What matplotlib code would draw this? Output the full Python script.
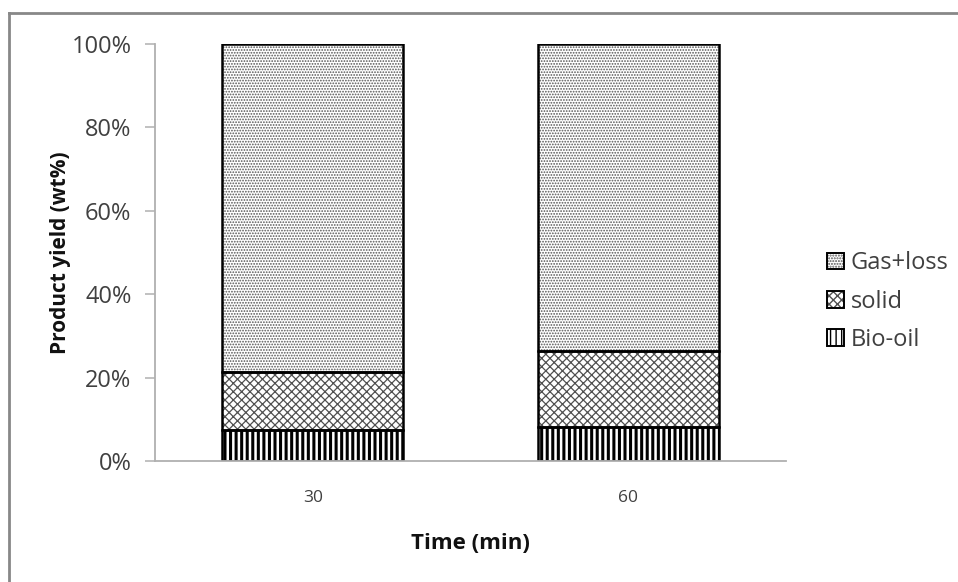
import matplotlib
matplotlib.use("Agg")
import matplotlib.pyplot as plt
from matplotlib.patches import Patch
from matplotlib.lines import Line2D
from matplotlib.legend_handler import HandlerTuple
import numpy as np

# Product distribution by reaction time
times = ["30", "60"]
bio_oil = [7.4, 8.2]
solid = [14.0, 18.2]
gas_loss = [78.6, 73.6]

series_names = ["Bio-oil", "solid", "Gas+loss"]
series_values = [bio_oil, solid, gas_loss]
hatches = ["|||", "xxxx", "......"]
hatch_colors = ["black", "#505050", "#555555"]
hatch_widths = [2.2, 0.9, 0.85]

plt.rcParams["font.family"] = ["Open Sans", "DejaVu Sans"]

fig = plt.figure(figsize=(9.58, 5.82), dpi=100)
ax = fig.add_axes([155 / 958, 1 - 461 / 582, (786 - 155) / 958, (461 - 44) / 582])


def hatched_patch_style(p, hw):
    if hasattr(p, "set_hatch_linewidth"):
        p.set_hatch_linewidth(hw)


x = np.arange(len(times))
width = 0.574
bottom = np.zeros(len(times))
handles = []
for name, vals, h, hc, hw in zip(series_names, series_values, hatches, hatch_colors, hatch_widths):
    vals = np.asarray(vals, dtype=float)
    with plt.rc_context({"hatch.linewidth": hw}):
        bars = ax.bar(x, vals, width, bottom=bottom, color="white",
                      edgecolor=hc, hatch=h, linewidth=0, zorder=2)
        for b in bars:
            hatched_patch_style(b, hw)
        hp = Patch(facecolor="white", edgecolor=hc, hatch=h, linewidth=0)
        hatched_patch_style(hp, hw)
    ax.bar(x, vals, width, bottom=bottom, fill=False,
           edgecolor="black", linewidth=1.8, zorder=3)
    outline = Patch(fill=False, edgecolor="black", linewidth=1.4)
    handles.append((hp, outline))
    bottom += vals

ax.set_xlim(-0.5, 1.5)
ax.set_ylim(0, 100)
ax.set_yticks(np.arange(0, 101, 20))
ax.set_yticklabels([f"{v}%" for v in range(0, 101, 20)])
ax.set_xticks(x)
ax.set_xticklabels(times)

for s in ["top", "right"]:
    ax.spines[s].set_visible(False)
for s in ["left", "bottom"]:
    ax.spines[s].set_color("#b0b0b0")
    ax.spines[s].set_linewidth(1.3)
ax.spines["bottom"].set_zorder(4)

ax.tick_params(axis="y", length=7, width=1.1, color="#b0b0b0",
               labelsize=17, labelcolor="#404040", pad=10)
ax.tick_params(axis="x", length=0, labelsize=12.5, labelcolor="#404040", pad=21)

ax.set_ylabel("Product yield (wt%)", fontsize=15, fontweight="bold",
              color="#111111", labelpad=0)
ax.set_xlabel("Time (min)", fontsize=16, fontweight="bold",
              color="#111111", labelpad=19)

leg = fig.legend(handles=handles[::-1], labels=series_names[::-1],
                 handler_map={tuple: HandlerTuple(ndivide=1, pad=0)},
                 loc="center left", bbox_to_anchor=(827 / 958, 1 - 301.5 / 582),
                 bbox_transform=fig.transFigure, frameon=False,
                 fontsize=17, labelspacing=0.6, handlelength=0.7,
                 handleheight=0.7, handletextpad=0.3, borderaxespad=0,
                 borderpad=0)
for t in leg.get_texts():
    t.set_color("#404040")

# chart frame lines on the top and left
fig.add_artist(Line2D([9 / 958, 1], [1 - 13 / 582, 1 - 13 / 582],
                      transform=fig.transFigure, color="#888888", linewidth=2))
fig.add_artist(Line2D([9 / 958, 9 / 958], [0, 1 - 13 / 582],
                      transform=fig.transFigure, color="#888888", linewidth=2))

fig.savefig("out.png", dpi=100)
